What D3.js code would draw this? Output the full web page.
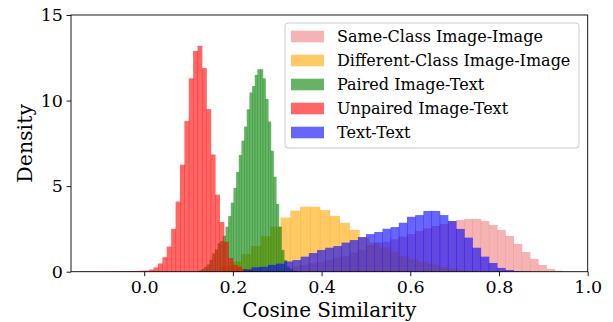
<!DOCTYPE html>
<html><head><meta charset="utf-8">
<script src="https://cdn.jsdelivr.net/npm/d3@7"></script>
<style>
body{margin:0;background:#fff}
svg{display:block}
text{font-family:"DejaVu Serif",serif;fill:#000}
</style>
</head><body>
<svg id="c" width="613" height="322"></svg>
<script>
// ---- data ----
const seriesNames = ["Same-Class Image-Image","Different-Class Image-Image","Paired Image-Text","Unpaired Image-Text","Text-Text"];
const seriesColors = ["lightcoral","orange","green","red","blue"];

// each histogram: first bin edge, bin width, density of each bin
const sameClassStart = 0.2407, sameClassWidth = 0.0185;
const sameClassDensity = [0.03,0.06,0.1,0.15,0.22,0.3,0.39,0.49,0.58,0.68,0.84,0.92,1.11,1.27,1.56,1.7,1.75,1.89,2.05,2.2,2.38,2.54,2.67,2.79,2.96,3.02,3.08,3.08,2.96,2.73,2.44,2.09,1.62,1.15,0.74,0.39,0.16,0.06];

const diffClassStart = 0.174, diffClassWidth = 0.0222;
const diffClassDensity = [0.3,0.6,1.03,1.5,2.07,2.63,3.16,3.57,3.8,3.8,3.6,3.26,2.86,2.44,2.0,1.7,1.4,1.17,0.92,0.72,0.58,0.45,0.29,0.2,0.1,0.05];

const pairedStart = 0.1233, pairedWidth = 0.006;
const pairedDensity = [0.08,0.16,0.29,0.43,0.7,1.07,1.3,1.66,1.79,2.1,2.63,3.25,4.03,4.9,5.83,6.82,7.66,8.48,9.49,10.48,10.85,11.5,11.83,11.83,11.3,10.1,8.77,7.07,5.55,3.96,2.63,1.27,0.68,0.3,0.15,0.06,0.03];

const unpairedStart = -0.147, unpairedWidth = 0.0099;
const unpairedDensity = [0.02,0.02,0.02,0.02,0.02,0.02,0.02,0.03,0.03,0.03,0.03,0.04,0.04,0.05,0.06,0.07,0.13,0.25,0.48,0.85,1.47,2.5,4.1,6.25,8.8,11.3,12.9,13.2,11.9,9.5,6.85,4.5,2.9,1.75,0.8,0.4,0.3,0.15,0.08,0.05,0.03,0.02,0.02,0.02,0.02,0.02,0.02,0.02,0.02,0.02];

const textTextStart = 0.2053, textTextWidth = 0.01844;
const textTextDensity = [0.04,0.14,0.26,0.29,0.4,0.47,0.6,0.68,0.88,1.09,1.27,1.4,1.5,1.7,1.85,2.03,2.2,2.32,2.51,2.61,2.86,3.21,3.31,3.55,3.55,3.31,2.96,2.5,1.99,1.4,0.88,0.51,0.22,0.1,0.04,0.02];

const xTicks = [0.0,0.2,0.4,0.6,0.8,1.0];
const yTicks = [0,5,10,15];
const xLabel = "Cosine Similarity", yLabel = "Density";

// ---- layout ----
const W = 613, H = 322;
const L = 71, R = 587.7, T = 15, B = 271.7;
const svg = d3.select("#c");
const x = d3.scaleLinear().domain([-0.165, 1.0]).range([L, R]);
const y = d3.scaleLinear().domain([0, 15]).range([B, T]);

const hists = [
  {start: sameClassStart, width: sameClassWidth, vals: sameClassDensity},
  {start: diffClassStart, width: diffClassWidth, vals: diffClassDensity},
  {start: pairedStart, width: pairedWidth, vals: pairedDensity},
  {start: unpairedStart, width: unpairedWidth, vals: unpairedDensity},
  {start: textTextStart, width: textTextWidth, vals: textTextDensity}
];

const plot = svg.append("g");
hists.forEach((h, si) => {
  const bins = h.vals.map((v, i) => ({x0: h.start + i*h.width, x1: h.start + (i+1)*h.width, v}));
  plot.append("g").selectAll("rect").data(bins).join("rect")
    .attr("x", d => x(d.x0))
    .attr("width", d => x(d.x1) - x(d.x0) + 0.5)
    .attr("y", d => y(d.v))
    .attr("height", d => y(0) - y(d.v))
    .attr("fill", seriesColors[si])
    .attr("fill-opacity", 0.6);
});

// axes
const fmt = d3.format(".1f");
const xa = svg.append("g").attr("transform", `translate(0,${B})`)
  .call(d3.axisBottom(x).tickValues(xTicks).tickFormat(fmt).tickSize(4.5).tickPadding(4.5).tickSizeOuter(0));
const ya = svg.append("g").attr("transform", `translate(${L},0)`)
  .call(d3.axisLeft(y).tickValues(yTicks).tickSize(4.5).tickPadding(3.5).tickSizeOuter(0));
[xa, ya].forEach(a => {
  a.select(".domain").remove();
  a.selectAll("line").attr("stroke", "#000").attr("stroke-width", 0.9);
  a.selectAll("text").attr("font-size", "17.5px").attr("font-family", "DejaVu Serif").attr("fill", "#000");
});

// frame
svg.append("rect").attr("x", L).attr("y", T).attr("width", R - L).attr("height", B - T)
  .attr("fill", "none").attr("stroke", "#000").attr("stroke-width", 0.9);

// axis labels
svg.append("text").attr("x", (L + R) / 2).attr("y", 316.5).attr("text-anchor", "middle")
  .attr("font-size", "20px").text(xLabel);
svg.append("text").attr("transform", `translate(31.5,${(T + B) / 2}) rotate(-90)`)
  .attr("text-anchor", "middle").attr("font-size", "20.5px").text(yLabel);

// legend
const lg = svg.append("g");
lg.append("rect").attr("x", 285).attr("y", 23).attr("width", 294).attr("height", 125).attr("rx", 3)
  .attr("fill", "#fff").attr("fill-opacity", 0.8).attr("stroke", "#cccccc").attr("stroke-width", 1);
seriesNames.forEach((n, i) => {
  const cy = 36.5 + i * 24;
  lg.append("rect").attr("x", 291).attr("y", cy - 5.8).attr("width", 33).attr("height", 11.6)
    .attr("fill", seriesColors[i]).attr("fill-opacity", 0.6);
  lg.append("text").attr("x", 337).attr("y", cy).attr("dy", "0.35em").attr("font-size", "16px").text(n);
});
</script>
</body></html>
